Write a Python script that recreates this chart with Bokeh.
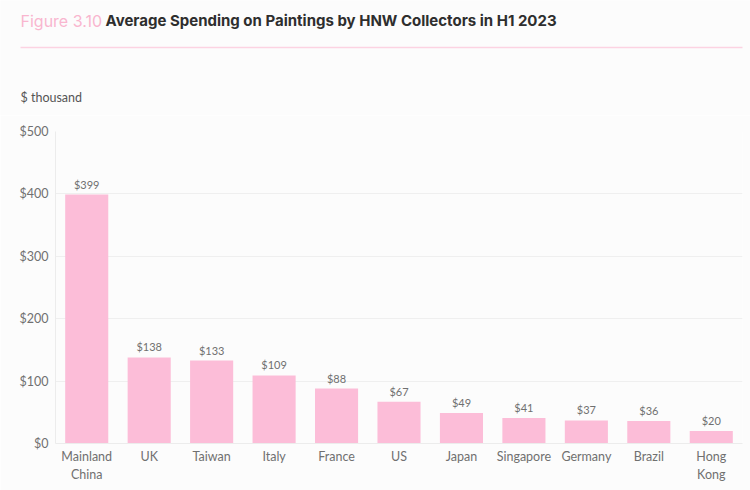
from bokeh.plotting import figure
from bokeh.layouts import column, row
from bokeh.models import ColumnDataSource, Label, NumeralTickFormatter, FixedTicker, Range1d
from bokeh.embed import file_html
from bokeh.resources import INLINE
from bokeh.core.properties import value

countries = ["Mainland\nChina", "UK", "Taiwan", "Italy", "France", "US", "Japan",
             "Singapore", "Germany", "Brazil", "Hong\nKong"]
spending = [399, 138, 133, 109, 88, 67, 49, 41, 37, 36, 20]
labels = ["$" + str(v) for v in spending]
yticks = [0, 100, 200, 300, 400, 500]
fig_label = "Figure 3.10"
title_text = "Average Spending on Paintings by HNW Collectors in H1 2023"
unit_text = "$ thousand"

BG = "#fcfcfc"
PINK = "#fcbdd8"
GRAY = "#707070"

# ---- header (title, rule, unit label) ----
HEAD_H = 115
head = figure(width=750, height=HEAD_H, x_range=Range1d(0, 750), y_range=Range1d(HEAD_H, 0),
              output_backend="svg", toolbar_location=None,
              min_border=0, min_border_left=0, min_border_right=0,
              min_border_top=0, min_border_bottom=0)
head.axis.visible = False
head.grid.visible = False
head.outline_line_color = None
head.background_fill_color = BG
head.border_fill_color = BG
head.add_layout(Label(x=20, y=10, text=fig_label, text_font="Inter", text_font_size="16px",
                      text_color="#f9b6cf", text_baseline="top"))
head.add_layout(Label(x=105, y=10, text=title_text, text_font="Inter", text_font_size="15px",
                      text_font_style="bold", text_color="#2e2e2e", text_baseline="top"))
head.segment(x0=[20], y0=[47], x1=[742], y1=[47], line_color="#fcd3e2", line_width=1.5)
head.add_layout(Label(x=20, y=89, text=unit_text, text_font="Lato", text_font_size="12.5px",
                      text_color="#555555", text_baseline="top"))

# ---- chart ----
src = ColumnDataSource(dict(c=countries, v=spending, t=labels))
p = figure(x_range=countries, y_range=(0, 500), width=750, height=490 - HEAD_H,
           output_backend="svg", toolbar_location=None,
           min_border_left=55, min_border_right=8, min_border_top=16, min_border_bottom=47)
p.background_fill_color = BG
p.border_fill_color = BG
p.outline_line_color = None

p.vbar(x="c", top="v", width=0.69, source=src, fill_color=PINK, line_color=None)
p.text(x="c", y="v", text="t", source=src, text_align="center", text_baseline="bottom",
       y_offset=-4, text_font=value("Lato"), text_font_size="11px", text_color=GRAY)

p.yaxis.ticker = FixedTicker(ticks=yticks)
p.yaxis.formatter = NumeralTickFormatter(format="$0")
for ax in (p.xaxis, p.yaxis):
    ax.major_tick_line_color = None
    ax.minor_tick_line_color = None
    ax.major_tick_out = 0
    ax.major_tick_in = 0
    ax.minor_tick_out = 0
    ax.axis_line_color = "#ececec"
    ax.major_label_text_font = "Lato"
    ax.major_label_text_color = GRAY
p.yaxis.major_label_text_font_size = "12.5px"
p.xaxis.major_label_text_font_size = "12.5px"
p.yaxis.major_label_standoff = 7
p.xaxis.major_label_standoff = 5
p.xgrid.grid_line_color = None
p.ygrid.grid_line_color = "#efefef"

layout = column(row(head), p, spacing=0)
open("out.html", "w").write(file_html(layout, INLINE))
